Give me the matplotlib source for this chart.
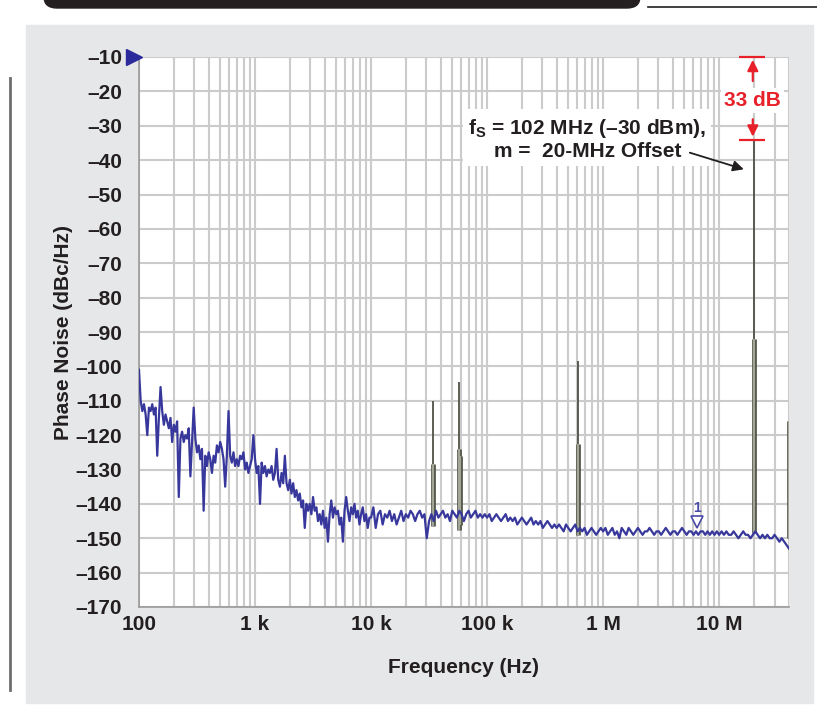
import numpy as np
import matplotlib.pyplot as plt
from matplotlib.patches import Rectangle, FancyBboxPatch
from matplotlib.lines import Line2D

plt.rcParams['font.family'] = ['Liberation Sans', 'DejaVu Sans']
plt.rcParams['font.weight'] = 'bold'
plt.rcParams['mathtext.fontset'] = 'custom'
plt.rcParams['mathtext.bf'] = 'Liberation Sans:bold'
plt.rcParams['mathtext.rm'] = 'Liberation Sans:bold'

# phase noise floor, dBc/Hz, one list per decade
dec1_dbc = [-101, -110, -113, -111, -114, -120, -112, -113, -111, -114,
            -112, -126, -115, -106, -113, -117, -114, -116, -118, -115,
            -122, -117, -119, -116, -138, -121, -119, -122, -120, -121,
            -118, -132, -122, -112, -121, -125, -123, -127, -124, -142,
            -126, -129, -125, -127, -131, -126, -128, -123, -125, -122,
            -124, -127, -135, -126, -113, -126, -128, -125, -129, -127,
            -129, -126, -127, -125, -130, -128, -131, -129, -127, -120]
dec2_dbc = [-127, -131, -129, -140, -128, -131, -129, -132, -130, -131,
            -129, -133, -131, -124, -133, -135, -131, -134, -126, -134,
            -136, -133, -137, -134, -138, -136, -139, -137, -141, -139,
            -147, -140, -142, -140, -143, -138, -142, -141, -145, -143,
            -146, -142, -147, -144, -151, -143, -139, -144, -141, -143,
            -142, -146, -144, -151, -142, -138, -142, -145, -141, -143,
            -140, -144, -142, -146, -143, -141, -145, -143, -147, -144]
dec3_dbc = [-144, -141, -147, -143, -142, -146, -143, -144, -142, -145,
            -143, -146, -144, -142, -145, -143, -144, -142, -143, -145,
            -143, -142, -144, -143, -150, -145, -143, -145, -142, -144,
            -143, -142, -144, -143, -145, -142, -143, -144, -142, -143,
            -145, -143, -142, -144, -143, -142, -144, -143, -144, -143]
dec4_dbc = [-144, -143, -145, -144, -143, -144, -145, -144, -143, -145,
            -144, -145, -144, -146, -145, -144, -145, -146, -145, -144,
            -146, -145, -146, -145, -147, -146, -145, -146, -147, -146,
            -147, -146, -147, -148, -146, -147, -148, -147, -146, -148,
            -147, -148, -147, -149, -148, -147, -148, -149, -148, -147]
dec5_dbc = [-148, -147, -149, -148, -147, -149, -148, -150, -147, -148,
            -149, -147, -148, -149, -148, -147, -148, -149, -148, -148,
            -147, -148, -149, -148, -148, -149, -148, -147, -148, -149,
            -148, -148, -149, -148, -147, -148, -149, -148, -148, -149,
            -148, -149, -148, -148, -149, -148, -149, -148, -149, -148]
dec6_dbc = [-149, -148, -149, -148, -149, -149, -148, -149, -150, -149,
            -148, -149, -149, -150, -149, -148, -149, -150, -149, -150,
            -149, -150, -150, -149, -150, -151, -150, -151, -152, -153]

# spurs: frequency, tip, top of the wide part, bottom
spur_freq = [34e3, 57e3, 59e3, 610e3, 20e6, 40e6]
spur_top = [-110, -104.5, -126, -98.5, -34, -116]
spur_core = [-128.5, -124, -126, -122.7, -92, -116]
spur_floor = [-146.5, -147.5, -146, -149, -148.5, -150]

y_ticks = list(range(-10, -171, -10))
y_labels = ['\u2013%d' % -v for v in y_ticks]
x_ticks = [1e2, 1e3, 1e4, 1e5, 1e6, 1e7]
x_labels = ['100', '1 k', '10 k', '100 k', '1 M', '10 M']

f_max = 40e6
freq = np.concatenate([
    np.logspace(2, 3, len(dec1_dbc), endpoint=False),
    np.logspace(3, 4, len(dec2_dbc), endpoint=False),
    np.logspace(4, 5, len(dec3_dbc), endpoint=False),
    np.logspace(5, 6, len(dec4_dbc), endpoint=False),
    np.logspace(6, 7, len(dec5_dbc), endpoint=False),
    np.logspace(7, np.log10(f_max), len(dec6_dbc)),
])
noise = np.concatenate([dec1_dbc, dec2_dbc, dec3_dbc, dec4_dbc, dec5_dbc, dec6_dbc])

W, H = 817, 715
fig = plt.figure(figsize=(W / 100, H / 100), dpi=100)

def fx(px):
    return px / W

def fy(py):
    return 1 - py / H

# page decoration: grey panel, header bar, margin rule
fig.add_artist(Rectangle((fx(26), fy(703)), fx(813) - fx(26), fy(25) - fy(703),
                         transform=fig.transFigure, color='#e6e7e8', zorder=0))
fig.add_artist(FancyBboxPatch((fx(44), fy(8)), fx(640) - fx(44), fy(0) - fy(8) + 0.02,
                              boxstyle='round,pad=0,rounding_size=0.016',
                              transform=fig.transFigure, color='#231f20', zorder=1))
fig.add_artist(Line2D([fx(648), fx(817)], [fy(7), fy(7)], transform=fig.transFigure,
                      color='#231f20', lw=1.2))
fig.add_artist(Line2D([fx(10), fx(10)], [fy(78), fy(690)], transform=fig.transFigure,
                      color='#6d6e70', lw=2))

ax = fig.add_axes([fx(139), fy(607), fx(789) - fx(139), fy(57) - fy(607)])
ax.set_facecolor('white')
ax.set_xscale('log')
ax.set_xlim(100, f_max)
ax.set_ylim(-170, -10)

ax.set_xticks(x_ticks)
ax.set_xticklabels(x_labels)
ax.set_yticks(y_ticks)
ax.set_yticklabels(y_labels)
ax.tick_params(axis='both', which='both', length=0, labelsize=15, colors='#231f20')
ax.tick_params(axis='y', pad=12)
ax.tick_params(axis='x', pad=6)
ax.xaxis.set_minor_formatter(plt.NullFormatter())
ax.grid(True, which='both', color='#cbcbcb', lw=1.5)
ax.set_axisbelow(True)
for s in ['top', 'right']:
    ax.spines[s].set_visible(False)
for s in ['left', 'bottom']:
    ax.spines[s].set_color('#9a9a9a')
    ax.spines[s].set_linewidth(1.2)

ax.set_ylabel('Phase Noise (dBc/Hz)', fontsize=15, fontweight='bold', labelpad=2,
              color='#231f20')
ax.set_xlabel('Frequency (Hz)', fontsize=15, fontweight='bold', labelpad=17,
              color='#231f20')

# spurs
ax.vlines(spur_freq, spur_floor, spur_top, color='#4f5245', lw=1.3, zorder=3)
ax.vlines(spur_freq, spur_floor, spur_core, color='#4f5245', lw=3.4, zorder=3)
ax.vlines(spur_freq, spur_floor, spur_core, color='#a3a697', lw=1.6, zorder=3)

# noise trace
ax.plot(freq, noise, color='#38389c', lw=1.6, zorder=4)

# reference marker at the top left
ax.plot([91], [-10], marker='>', ms=11, color='#2b2b9c', clip_on=False, zorder=6)

# marker 1
ax.plot([6.5e6], [-145.4], marker='v', ms=9, mfc='white', mec='#4a4aa8', mew=1.2, zorder=5)
ax.text(6.5e6, -141.3, '1', fontsize=10, color='#4a4aa8', ha='center', va='center', zorder=5)

# carrier to spur level
red = '#e8202a'
ax.hlines([-10, -34], 14.7e6, 24.6e6, color=red, lw=1.6, clip_on=False, zorder=6)
ax.annotate('', xy=(19.5e6, -10), xytext=(19.5e6, -17.8),
            arrowprops=dict(arrowstyle='-|>', color=red, lw=1.6, mutation_scale=16),
            annotation_clip=False, zorder=6)
ax.annotate('', xy=(19.5e6, -34), xytext=(19.5e6, -27.3),
            arrowprops=dict(arrowstyle='-|>', color=red, lw=1.6, mutation_scale=16),
            zorder=6)
ax.text(19.5e6, -22.6, '33 dB', color=red, fontsize=15, fontweight='bold',
        ha='center', va='center', zorder=6,
        bbox=dict(boxstyle='square,pad=0.15', fc='white', ec='none'))

ax.text(7.3e5, -33.8, 'f$_{\\mathbf{S}}$ = 102 MHz (\u201330 dBm),\nm =  20-MHz Offset',
        fontsize=15, fontweight='bold', ha='center', va='center', color='#231f20',
        multialignment='center', linespacing=1.15, zorder=6,
        bbox=dict(boxstyle='square,pad=0.25', fc='white', ec='none'))
ax.annotate('', xy=(17.2e6, -42.9), xytext=(5.3e6, -37.6),
            arrowprops=dict(arrowstyle='-|>', color='#231f20', lw=1.3, mutation_scale=16),
            zorder=7)

fig.savefig('out.png', dpi=100, facecolor='white')
